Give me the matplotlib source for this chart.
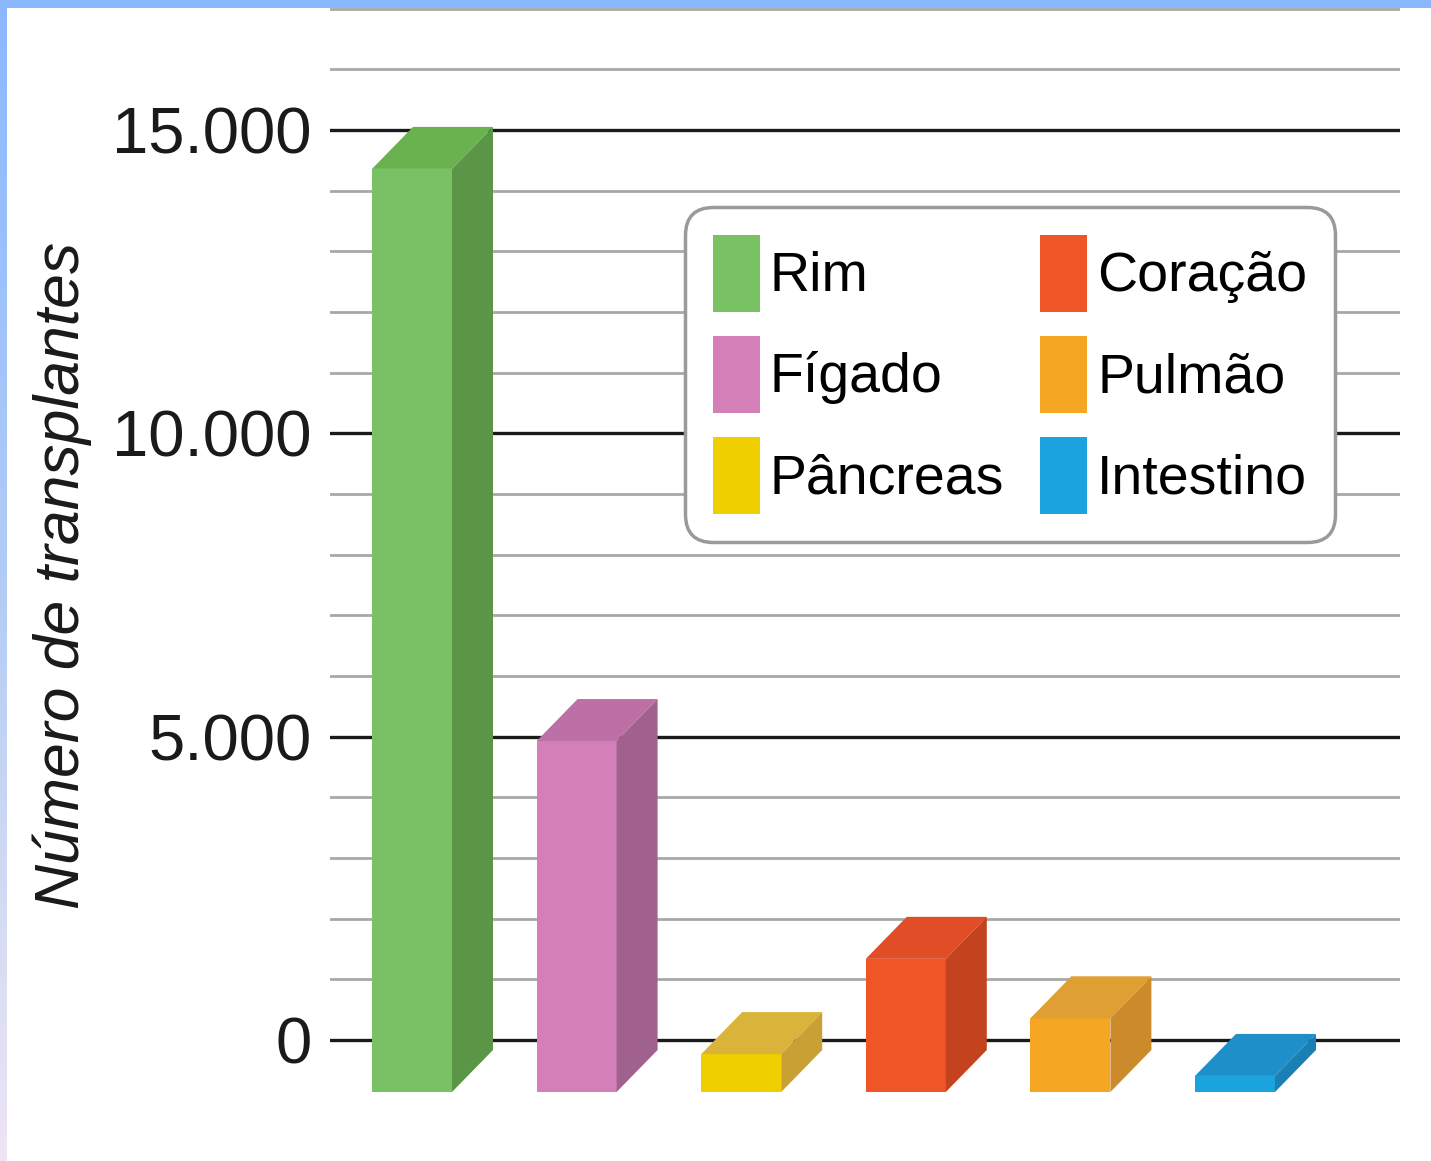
import numpy as np
import matplotlib
matplotlib.use("Agg")
import matplotlib.pyplot as plt
from matplotlib.patches import Polygon, Patch, Rectangle
from matplotlib.colors import LinearSegmentedColormap

plt.rcParams['font.family'] = ['Liberation Sans', 'DejaVu Sans']

# ---- data ----
organs = ["Rim", "Fígado", "Pâncreas", "Coração", "Pulmão", "Intestino"]
transplants = [15050, 5620, 460, 2030, 1050, 100]
front_colors = ["#78C263", "#D47FB8", "#F0CF00", "#F05527", "#F5A623", "#1BA3DE"]
top_colors = ["#6AB14F", "#BC70A6", "#D9B33A", "#E04D27", "#E09F33", "#1E8FC9"]
side_colors = ["#5A9646", "#A0618F", "#C9A034", "#C4431F", "#CB8B2D", "#1A7FB5"]
ytick_values = [0, 5000, 10000, 15000]
ytick_labels = ["0", "5.000", "10.000", "15.000"]
ylabel = "Número de transplantes"

# legend order (2 columns: left column first)
legend_order = ["Rim", "Fígado", "Pâncreas", "Coração", "Pulmão", "Intestino"]

W, H = 1431, 1161
fig = plt.figure(figsize=(W / 100, H / 100), dpi=100)
fig.patch.set_facecolor("white")

# axes occupying plot area (pixel coords converted)
ax_left, ax_right = 330, 1400
ax_top, ax_bottom = 8, 1100
ax = fig.add_axes([ax_left / W, 1 - ax_bottom / H, (ax_right - ax_left) / W, (ax_bottom - ax_top) / H])

px_per_unit_y = 60.67 / 1000.0
zero_px = 1040
ymin = -(ax_bottom - zero_px) / px_per_unit_y
ymax = (zero_px - ax_top) / px_per_unit_y
ax.set_ylim(ymin, ymax)

spacing_px = 164.6
first_center_px = 412
xmin = -(first_center_px - ax_left) / spacing_px
xmax = (ax_right - first_center_px) / spacing_px
ax.set_xlim(xmin, xmax)

# 3D geometry (in data units)
bar_w = 80 / spacing_px
dx = 41 / spacing_px
DY = 42 / px_per_unit_y
FLOOR = -(1092 - zero_px) / px_per_unit_y

x = np.arange(len(organs))
vals = np.array(transplants, dtype=float)
front_top = vals - DY

ax.bar(x, front_top - FLOOR, bottom=FLOOR, width=bar_w, color=front_colors,
       edgecolor="none", zorder=3)
for xi, v, ft, tc, sc in zip(x, vals, front_top, top_colors, side_colors):
    xl, xr = xi - bar_w / 2, xi + bar_w / 2
    top = Polygon([(xl, ft), (xr, ft), (xr + dx, v), (xl + dx, v)], closed=True,
                  facecolor=tc, edgecolor="none", zorder=3)
    side = Polygon([(xr, FLOOR), (xr + dx, FLOOR + DY), (xr + dx, v), (xr, ft)], closed=True,
                   facecolor=sc, edgecolor="none", zorder=3)
    ax.add_patch(top)
    ax.add_patch(side)

# grid
ax.set_yticks(ytick_values)
ax.set_yticklabels(ytick_labels)
ax.set_yticks(np.arange(0, 17001, 1000), minor=True)
ax.yaxis.grid(True, which="minor", color="#a8a8a8", lw=2.0, zorder=0)
ax.yaxis.grid(True, which="major", color="#1a1a1a", lw=2.4, zorder=1)
ax.set_axisbelow(True)
ax.tick_params(axis="y", which="both", length=0, pad=13, labelsize=47, labelcolor="#1a1a1a")
ax.tick_params(axis="x", which="both", length=0, labelbottom=False)
for s in ax.spines.values():
    s.set_visible(False)

# y label
fig.text(62 / W, 1 - 575 / H, ylabel, rotation=90, ha="center", va="center",
         fontsize=45, style="italic", color="#1a1a1a")

# legend
color_map = dict(zip(organs, front_colors))
handles = [Patch(facecolor=color_map[o], edgecolor="none", label=o) for o in legend_order]
leg = ax.legend(handles=handles, ncol=2, loc="upper left",
                bbox_to_anchor=(685 / W, 1 - 207 / H), bbox_transform=fig.transFigure,
                borderaxespad=0, fontsize=40, handlelength=0.85, handleheight=1.75,
                handletextpad=0.18, labelspacing=0.44, columnspacing=0.64,
                borderpad=0.5, frameon=True, fancybox=True)
frame = leg.get_frame()
frame.set_edgecolor("#9a9a9a")
frame.set_linewidth(2.5)
frame.set_facecolor("white")
frame.set_alpha(1)
frame.set_boxstyle("round", pad=0, rounding_size=0.5)
leg.set_zorder(5)

# blue border: top strip and left gradient strip
fig.add_artist(Rectangle((0, 1 - 8 / H), 1, 8 / H, transform=fig.transFigure,
                         facecolor="#8AB8FF", edgecolor="none", zorder=10))
cmap = LinearSegmentedColormap.from_list("bord", [(0, "#8AB8FF"), (0.5, "#B2CCF6"),
                                                  (0.8, "#D6DCF2"), (1, "#EEE4F6")])
gax = fig.add_axes([0, 0, 7 / W, 1])
gax.imshow(np.linspace(0, 1, 256).reshape(-1, 1), aspect="auto", cmap=cmap)
gax.set_axis_off()

fig.savefig("out.png", dpi=100, facecolor="white")
